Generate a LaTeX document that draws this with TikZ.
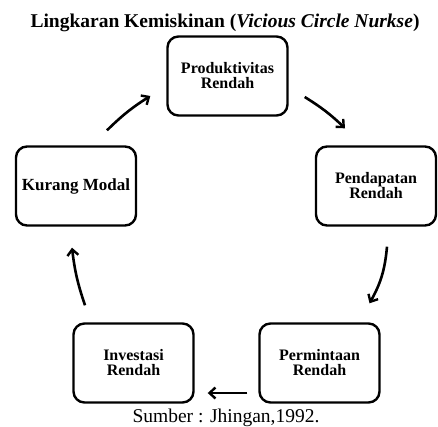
\documentclass[tikz,border=0pt]{standalone}
\usepackage{fontspec}
\setmainfont{Liberation Serif}
\usetikzlibrary{arrows.meta,calc}
\begin{document}
\begin{tikzpicture}[x=1pt,y=-1pt,
  box/.style={draw,line width=2.4pt,rounded corners=11pt,minimum width=120pt,minimum height=79pt,
    align=center,font=\bfseries\fontsize{16}{15}\selectfont,inner sep=2pt},
  arr/.style={line width=2.6pt,-{Straight Barb[length=6pt,width=11pt,line width=2.4pt]}}]
\useasboundingbox (0,0) rectangle (438,427);
\node[anchor=base,inner sep=0pt] (title) at (225,28) {\bfseries\fontsize{19.5}{20}\selectfont Lingkaran Kemiskinan (\textit{Vicious Circle Nurkse})};
\node[box] (P) at (227.5,76) {Produktivitas\\Rendah};
\node[box] (D) at (376,186) {Pendapatan\\Rendah};
\node[box] (M) at (319.5,363) {Permintaan\\Rendah};
\node[box] (I) at (133.5,363) {Investasi\\Rendah};
\node[box,font=\bfseries\fontsize{17}{17}\selectfont] (K) at (76,186) {Kurang Modal};
\node[anchor=base,inner sep=0pt] (src) at (226,422) {\fontsize{19.5}{20}\selectfont Sumber : Jhingan,1992.};
\draw[arr] ([shift={(31,-15)}]K.north) to[bend left=6] ([shift={(-16,20)}]P.west);
\draw[arr] ([shift={(16,21)}]P.east) to[bend left=6] ([shift={(-31,-17)}]D.north);
\draw[arr] ([shift={(11,20)}]D.south) to[bend left=12] ([shift={(50,-19)}]M.north);
\draw[arr] ([shift={(-11,30)}]M.west) -- ([shift={(13,30)}]I.east);
\draw[arr] ([shift={(-48.5,-17)}]I.north) to[bend left=6] ([shift={(-4,21)}]K.south);
\end{tikzpicture}
\end{document}
